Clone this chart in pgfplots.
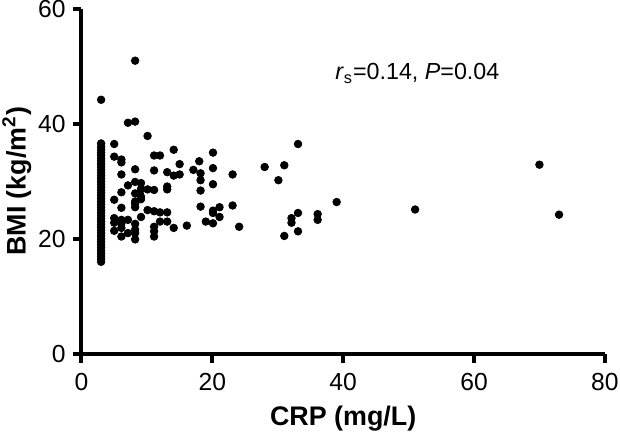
\documentclass[border=0pt]{standalone}
\usepackage{pgfplots}
\pgfplotsset{compat=1.18}
\usepackage{fontspec}
\setmainfont{Liberation Sans}
\begin{document}
\begin{tikzpicture}
\useasboundingbox (-40.95pt,-42.85pt) rectangle (270.6pt,177.75pt);
\begin{axis}[
  at={(0,0)}, anchor=south west,
  scale only axis, width=263pt, height=173.25pt,
  xmin=0, xmax=80, ymin=0, ymax=60,
  axis lines=left, axis line style={line width=2pt, -},
  xtick={0,20,40,60,80}, ytick={0,20,40,60},
  tick style={line width=2pt, black}, tick align=outside,
  major tick length=4.5pt,
  /pgf/number format/assume math mode=true,
  tick label style={font=\fontsize{12.4}{14}\selectfont},
  xticklabel style={yshift=-2pt},
  yticklabel style={xshift=0pt},
  label style={font=\fontsize{13.5}{15}\selectfont\bfseries},
  xlabel={CRP (mg/L)}, ylabel={BMI (kg/m\textsuperscript{2})},
  xlabel style={at={(axis description cs:0.5,0)}, anchor=center, yshift=-32.75pt},
  ylabel style={at={(axis description cs:-0.1236,0.5)}, anchor=center},
  clip=false,
]
\addplot[only marks, mark=*, mark size=1.9pt, black] coordinates {
(3,16.0)(3,16.5)(3,17.0)(3,17.5)(3,18.0)(3,18.5)(3,19.0)(3,19.5)(3,20.0)(3,20.5)
(3,21.0)(3,21.5)(3,22.0)(3,22.5)(3,23.0)(3,23.5)(3,24.0)(3,24.5)(3,25.0)(3,25.5)
(3,26.0)(3,26.5)(3,27.0)(3,27.5)(3,28.0)(3,28.5)(3,29.0)(3,29.5)(3,30.0)(3,30.5)
(3,31.0)(3,31.5)(3,32.0)(3,32.5)(3,33.0)(3,33.5)(3,34.0)(3,34.5)(3,35.0)(3,35.5)
(3,36.0)(3,36.6)(3,44.2)
(8.2,51.0)(7.1,40.2)(8.2,40.4)(10.1,37.9)(5,36.5)(33.1,36.5)(14.1,35.5)(20.1,35.0)
(11.1,34.5)(12.0,34.5)(5,34.3)(6.1,33.8)(6.1,33.3)(15,33.0)(18,33.5)(70,32.9)
(31,32.8)(28,32.5)(20.1,32.3)(8.2,32.1)(11.1,31.9)(17.1,32.0)(13.1,31.6)(14.1,31.0)
(15,31.2)(18.2,31.4)(23.1,31.2)(6.1,31.2)(30.1,30.2)(18.2,30.2)(8.2,29.9)(9.1,29.7)
(7.1,29.3)(20.1,29.5)(13.1,29.1)(13.1,28.6)(9.1,28.7)(10.1,28.6)(11.1,28.5)(18.2,28.4)
(6.1,28.1)(8.2,27.9)(8.9,27.9)(9.1,27.3)(9.1,26.9)(5,26.8)(8.2,26.5)(8.2,26.1)
(39,26.4)(23.1,25.8)(18.2,25.6)(21.1,25.5)(8.2,25.5)(6.1,25.4)(51,25.1)(10.1,25.0)
(11.1,24.8)(12.0,24.6)(13.1,24.6)(20.1,24.9)(20.1,24.5)(33.1,24.5)(36.1,24.3)(36.1,23.3)
(73,24.2)(21.1,23.8)(9.1,23.8)(32.1,23.6)(32.1,22.8)(5,23.6)(6.1,23.3)(7.1,23.3)
(12,23.0)(13.1,23.0)(19,23.0)(20.1,22.7)(5,22.8)(16.1,22.3)(6.1,22.7)(6.1,21.9)
(8.2,22.6)(11.1,22.1)(14.1,21.9)(24.1,22.1)(5,21.4)(7.1,21.0)(33.1,21.3)(8.2,21.6)
(8.2,21.0)(8.2,19.9)(11.1,21.3)(11.1,20.4)(6.1,20.4)(31,20.5)
};
\node[anchor=base west, font=\fontsize{11.7}{13}\selectfont, inner sep=0pt]
  at (axis cs:38.75,47.7) {\textit{r}\textsubscript{s}=0.14, \textit{P}=0.04};
\end{axis}
\end{tikzpicture}
\end{document}
